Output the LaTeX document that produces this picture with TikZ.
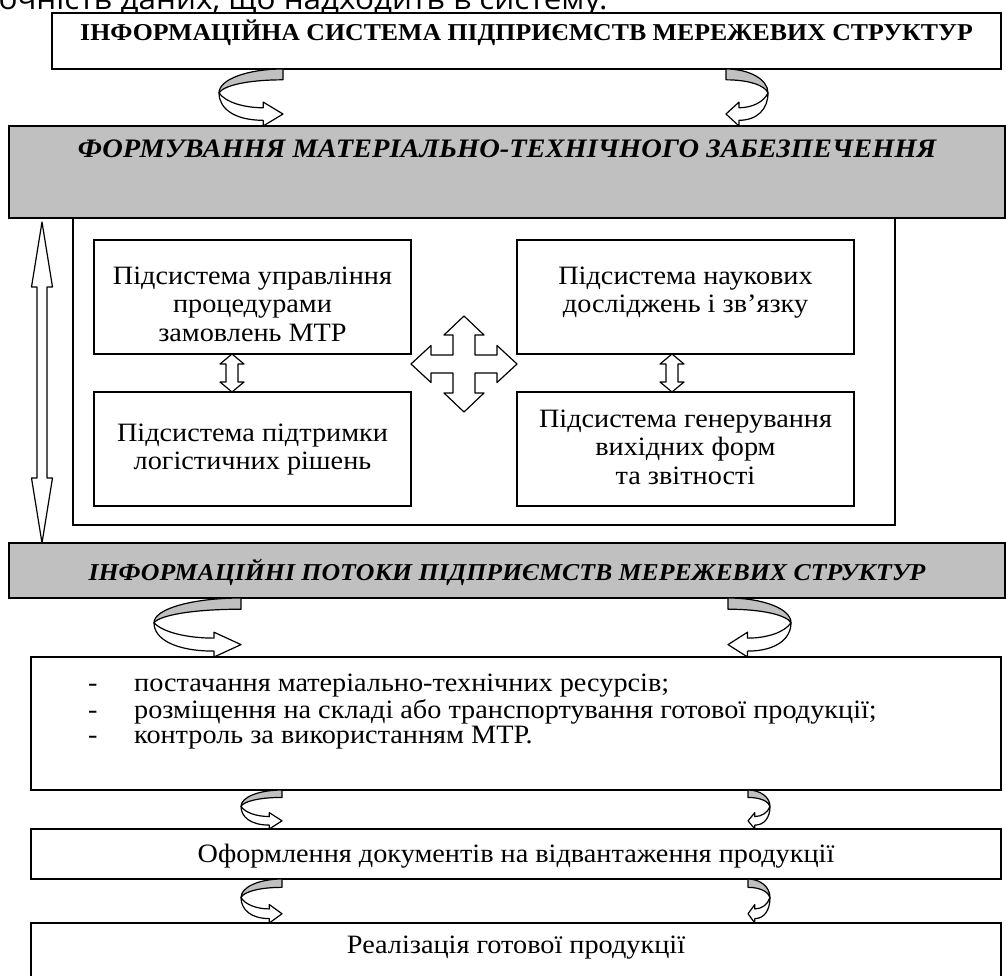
\documentclass[tikz,border=0pt]{standalone}
\usepackage{fontspec}
\setmainfont{Liberation Serif}[FakeStretch=1.066]
\newfontfamily\bodysans{Open Sans}[FakeStretch=1.066]
\usetikzlibrary{calc}
\definecolor{silver}{RGB}{192,192,192}
\tikzset{
 box/.style={draw=black, line width=1.4pt, fill=white, inner sep=0pt, outer sep=0pt, anchor=north west},
 graybox/.style={box, fill=silver},
 blk/.style={draw=black, line width=1.2pt, fill=white, line join=round},
 frameline/.style={draw=black, line width=1.2pt},
 capb/.style={inner sep=0pt, anchor=base, font=\fontsize{24.2}{28}\selectfont\bfseries},
 capbi/.style={inner sep=0pt, anchor=base, font=\fontsize{24.2}{28}\selectfont\bfseries\itshape},
 capbibig/.style={inner sep=0pt, anchor=base, font=\fontsize{26.7}{30}\selectfont\bfseries\itshape},
 txt/.style={inner sep=0pt, font=\fontsize{26.5}{28.5}\selectfont, align=center, anchor=north},
 one/.style={inner sep=0pt, font=\fontsize{26.5}{28.5}\selectfont, anchor=base},
}
\newcommand\curvarr[3]{%
 \begin{scope}[shift={(#1)}, xscale=#2, yscale=#3]
  \filldraw[blk, fill=silver] (0,0) .. controls (-0.55,0) and (-1,0.18) .. (-1,0.42)
     .. controls (-0.93,0.29) and (-0.55,0.19) .. (0,0.19) -- cycle;
  \filldraw[blk] (-1,0.42) .. controls (-0.9,0.58) and (-0.62,0.68) .. (-0.31,0.68)
     -- (-0.31,0.58) -- (0,0.79) -- (-0.31,1) -- (-0.31,0.9)
     .. controls (-0.75,0.9) and (-1,0.7) .. (-1,0.42) -- cycle;
 \end{scope}}
\newcommand\vdarrow[5]{%
 \draw[blk] let \p1=(#1), \p2=(#2) in
  (\x1,\y1) -- (\x1+#4,\y1-#5) -- (\x1+#3,\y1-#5) -- (\x1+#3,\y2+#5) -- (\x1+#4,\y2+#5) -- (\x1,\y2)
  -- (\x1-#4,\y2+#5) -- (\x1-#3,\y2+#5) -- (\x1-#3,\y1-#5) -- (\x1-#4,\y1-#5) -- cycle;}
\begin{document}
\begin{tikzpicture}[x=1pt, y=-1pt]
\path[use as bounding box] (0,0) rectangle (1006,976);
\clip (0,0) rectangle (1006,976);

% cut line of the page text above
\node[anchor=base west, inner sep=0pt, font=\bodysans\fontsize{29.5}{33}\selectfont] (prev) at (-16,9.3) {точність даних, що надходить в систему.};

% boxes
\node[box, minimum width=949pt, minimum height=56pt] (topbox) at (52,13) {};
\node[graybox, minimum width=996pt, minimum height=92pt] (g1) at (9,126) {};
\node[box, minimum width=317pt, minimum height=114pt] (A) at (94,240) {};
\node[box, minimum width=317pt, minimum height=114pt] (B) at (94,392) {};
\node[box, minimum width=337pt, minimum height=114pt] (C) at (517,240) {};
\node[box, minimum width=337pt, minimum height=114pt] (D) at (517,392) {};
\node[graybox, minimum width=996pt, minimum height=55pt] (g2) at (9,543) {};
\node[box, minimum width=970pt, minimum height=133pt] (list) at (31,657) {};
\node[box, minimum width=970pt, minimum height=50pt] (of) at (31,829) {};
\node[box, minimum width=970pt, minimum height=60pt] (real) at (31,923) {};

% frame round the subsystems
\draw[frameline] ($(g1.south west)+(64,0)$) |- ($(g1.south west)+(886,307)$) -- ($(g1.south west)+(886,0)$);

% texts
\node[capb] (topT) at (526.5,41) {ІНФОРМАЦІЙНА СИСТЕМА ПІДПРИЄМСТВ МЕРЕЖЕВИХ СТРУКТУР};
\node[capbibig] (g1T) at (507,158) {ФОРМУВАННЯ МАТЕРІАЛЬНО-ТЕХНІЧНОГО ЗАБЕЗПЕЧЕННЯ};
\node[capbi] (g2T) at (507,580) {ІНФОРМАЦІЙНІ ПОТОКИ ПІДПРИЄМСТВ МЕРЕЖЕВИХ СТРУКТУР};
\node[txt] (AT) at (252.5,264) {\strut Підсистема управління\\процедурами\\замовлень МТР\strut};
\node[txt] (CT) at (685.5,264) {\strut Підсистема наукових\\досліджень і зв’язку\strut};
\node[txt] (BT) at (252.5,421) {\strut Підсистема підтримки\\логістичних рішень\strut};
\node[txt] (DT) at (685.5,407) {\strut Підсистема генерування\\вихідних форм\\та звітності\strut};
\node[inner sep=0pt, anchor=north west, align=left, font=\fontsize{26.5}{25}\selectfont] (listT) at (88,673.5)
 {\strut\makebox[46pt][l]{-}постачання матеріально-технічних ресурсів;\\
  \makebox[46pt][l]{-}розміщення на складі або транспортування готової продукції;\\
  \makebox[46pt][l]{-}контроль за використанням МТР.\strut};
\node[one] (ofT) at (516,862) {Оформлення документів на відвантаження продукції};
\node[one] (realT) at (516,953) {Реалізація готової продукції};

% long double arrow
\coordinate (la1) at ($(g1.south west)+(33,4)$);
\coordinate (la2) at ($(g2.north west)+(33,0)$);
\vdarrow{la1}{la2}{5}{10.5}{65}
% small double arrows
\coordinate (s1) at ($(A.south west)+(138,0)$);
\coordinate (s2) at ($(B.north west)+(138,0)$);
\coordinate (s3) at ($(C.south west)+(155,0)$);
\coordinate (s4) at ($(D.north west)+(155,0)$);
\vdarrow{s1}{s2}{6}{12}{10}
\vdarrow{s3}{s4}{6}{12}{10}
% four-way arrow
\coordinate (cr) at (464,364);
\begin{scope}[shift={(cr)}]
\draw[blk] (0,-48) -- (20,-29) -- (11,-29) -- (11,-9) -- (33,-9) -- (33,-18.5) -- (53,0)
 -- (33,18.5) -- (33,9) -- (11,9) -- (11,29) -- (20,29) -- (0,48) -- (-20,29) -- (-11,29)
 -- (-11,9) -- (-33,9) -- (-33,18.5) -- (-53,0) -- (-33,-18.5) -- (-33,-9) -- (-11,-9)
 -- (-11,-29) -- (-20,-29) -- cycle;
\end{scope}

% curved arrows
\coordinate (ca1) at ($(topbox.south west)+(231,0)$);
\coordinate (ca2) at ($(topbox.south west)+(674,0)$);
\coordinate (ca3) at ($(g2.south west)+(232,0)$);
\coordinate (ca4) at ($(g2.south west)+(719,0)$);
\coordinate (ca5) at ($(list.south west)+(251,0)$);
\coordinate (ca6) at ($(list.south west)+(717,0)$);
\coordinate (ca7) at ($(of.south west)+(251,0)$);
\coordinate (ca8) at ($(of.south west)+(717,0)$);
\curvarr{ca1}{64}{57}
\curvarr{ca2}{-42}{57}
\curvarr{ca3}{87}{59}
\curvarr{ca4}{-63}{59}
\curvarr{ca5}{41}{39}
\curvarr{ca6}{-22}{39}
\curvarr{ca7}{41}{44}
\curvarr{ca8}{-22}{44}
\end{tikzpicture}
\end{document}
